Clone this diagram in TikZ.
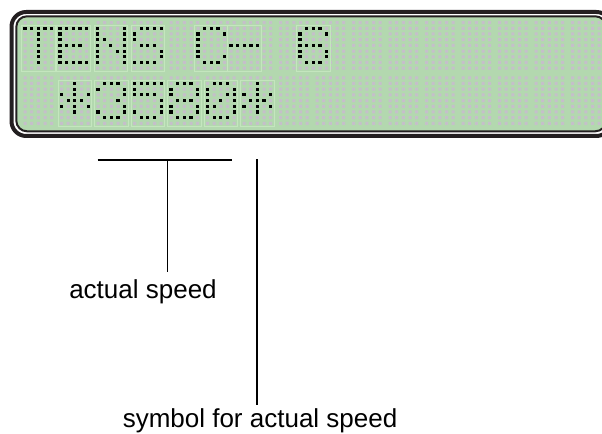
\documentclass[tikz,border=0pt]{standalone}
\usepackage{fontspec}
\setmainfont{Liberation Sans}

\definecolor{lcdgreen}{HTML}{B3D8AF}
\definecolor{lcdcell}{HTML}{C4E6BE}
\definecolor{dotoff}{HTML}{C5BFCA}
\definecolor{framedark}{HTML}{231F20}

\tikzset{
  offdot/.style={fill=dotoff},
  ondot/.style={fill=black},
  cellbox/.style={draw=lcdcell, line width=0.5pt, fill=lcdgreen},
  leader/.style={draw=black, line width=1.05pt},
  callout/.style={font=\fontsize{19.5}{23}\selectfont, inner sep=0pt, anchor=base west},
}

% 5x7 dot-matrix glyphs, one list of columns per row
\def\lcdT{{1,1,1,1,1},{0,0,1,0,0},{0,0,1,0,0},{0,0,1,0,0},{0,0,1,0,0},{0,0,1,0,0},{0,0,1,0,0}}
\def\lcdE{{1,1,1,1,1},{1,0,0,0,0},{1,0,0,0,0},{1,1,1,1,0},{1,0,0,0,0},{1,0,0,0,0},{1,1,1,1,1}}
\def\lcdN{{1,0,0,0,1},{1,0,0,0,1},{1,1,0,0,1},{1,0,1,0,1},{1,0,0,1,1},{1,0,0,0,1},{1,0,0,0,1}}
\def\lcdS{{0,1,1,1,1},{1,0,0,0,0},{1,0,0,0,0},{0,1,1,1,0},{0,0,0,0,1},{0,0,0,0,1},{1,1,1,1,0}}
\def\lcdC{{0,1,1,1,0},{1,0,0,0,1},{1,0,0,0,0},{1,0,0,0,0},{1,0,0,0,0},{1,0,0,0,1},{0,1,1,1,0}}
\def\lcdDash{{0,0,0,0,0},{0,0,0,0,0},{0,0,0,0,0},{1,1,1,1,1},{0,0,0,0,0},{0,0,0,0,0},{0,0,0,0,0}}
\def\lcdSix{{0,1,1,1,0},{1,0,0,0,1},{1,0,0,0,0},{1,1,1,1,0},{1,0,0,0,1},{1,0,0,0,1},{0,1,1,1,0}}
\def\lcdStar{{0,0,1,0,0},{0,0,1,0,0},{1,0,1,0,1},{0,1,1,1,0},{1,0,1,0,1},{0,0,1,0,0},{0,0,0,0,0}}
\def\lcdThree{{0,1,1,1,0},{1,0,0,0,1},{0,0,0,0,1},{0,0,0,1,0},{0,0,0,0,1},{1,0,0,0,1},{0,1,1,1,0}}
\def\lcdFive{{1,1,1,1,1},{1,0,0,0,0},{1,1,1,1,0},{0,0,0,0,1},{0,0,0,0,1},{1,0,0,0,1},{0,1,1,1,0}}
\def\lcdEight{{0,1,1,1,0},{1,0,0,0,1},{1,0,0,0,1},{0,1,1,1,0},{1,0,0,0,1},{1,0,0,0,1},{0,1,1,1,0}}
\def\lcdZero{{0,1,1,1,0},{1,0,0,0,1},{1,0,0,1,1},{1,0,1,0,1},{1,1,0,0,1},{1,0,0,0,1},{0,1,1,1,0}}

% one character cell: x of first column, y of first row, glyph
\newcommand\lcdchar[3]{%
  \fill[cellbox] ({#1-3.3},{#2-2.85}) rectangle ({#1+30},{#2+42.75});
  \fill[offdot] \foreach \c in {0,...,4}{\foreach \r in {0,...,7}{
      ({#1+\c*6.67-1.5},{#2+\r*5.7-1.5}) rectangle ++(3,3)}};
  \foreach \row [count=\r from 0] in #3 {%
    \foreach \b [count=\c from 0] in \row {%
      \ifnum\b=1 \fill[ondot] ({#1+\c*6.67-1.55},{#2+\r*5.7-1.55}) rectangle ++(3.1,3.1);\fi
    }}%
}

\begin{document}
\begin{tikzpicture}[x=0.75pt,y=-0.75pt]
\fill[white] (0,0) rectangle (602,434);
\useasboundingbox (0,0) rectangle (602,434);

% display frame
\draw[framedark, line width=3pt, rounded corners=11pt] (11.5,12) rectangle (611,136);
\draw[framedark, line width=1.5pt, fill=lcdgreen, rounded corners=8pt] (16.3,16.3) rectangle (606,131.3);

\begin{scope}
\clip[rounded corners=7.5pt] (17.1,17.1) rectangle (605.2,130.5);
% unlit pixel grid, 16 cells per line
\fill[offdot] \foreach \i in {0,...,16}{\foreach \c in {0,...,4}{
    \foreach \y in {22.6,28.3,34.0,39.7,45.4,51.1,56.8,62.5,68.2,77.8,83.5,89.2,94.9,100.6,106.3,112.0,117.7,123.4}{
      ({25+\i*36.5+\c*6.67-1.5},{\y-1.5}) rectangle ++(3,3)}}};

% line 1: TENS C- 6
\lcdchar{25}{28.3}{\lcdT}
\lcdchar{60}{28.3}{\lcdE}
\lcdchar{97.5}{28.3}{\lcdN}
\lcdchar{134.5}{28.3}{\lcdS}
\lcdchar{198}{28.3}{\lcdC}
\lcdchar{231}{28.3}{\lcdDash}
\lcdchar{300}{28.3}{\lcdSix}

% line 2: speed between two markers
\lcdchar{61.5}{83.5}{\lcdStar}
\lcdchar{98}{83.5}{\lcdThree}
\lcdchar{134.5}{83.5}{\lcdFive}
\lcdchar{171}{83.5}{\lcdEight}
\lcdchar{207.5}{83.5}{\lcdZero}
\lcdchar{244}{83.5}{\lcdStar}
\end{scope}

% callouts
\coordinate (brL) at (97.7,160);
\coordinate (brR) at (232.3,160);
\coordinate (brM) at (167.3,160);
\coordinate (brEnd) at (167.3,272.3);
\coordinate (symTop) at (257,159.3);
\coordinate (symEnd) at (257,405);
\node[callout] (lblSpeed) at (69,298.3) {actual speed};
\node[callout] (lblSymbol) at (122.5,427) {symbol for actual speed};
\draw[leader] (brL) -- (brR);
\draw[leader] (brM) -- (brEnd);
\draw[leader] (symTop) -- (symEnd);
\end{tikzpicture}
\end{document}
